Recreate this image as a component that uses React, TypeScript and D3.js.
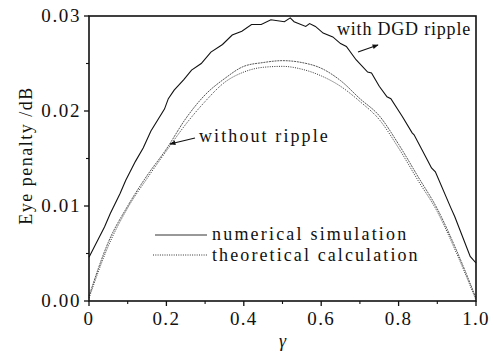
import React from "react";
import * as d3 from "d3";

// With DGD ripple – numerical simulation
const gammaDGD = [0, 0.04, 0.055, 0.08, 0.095, 0.12, 0.14, 0.16, 0.195, 0.205, 0.22, 0.245, 0.265, 0.29, 0.315, 0.345, 0.37, 0.395, 0.42, 0.445, 0.47, 0.505, 0.52, 0.53, 0.56, 0.57, 0.585, 0.605, 0.63, 0.65, 0.665, 0.69, 0.72, 0.73, 0.75, 0.77, 0.78, 0.81, 0.835, 0.84, 0.875, 0.885, 0.895, 0.935, 0.945, 0.985, 1.0];
const penaltyDGD = [0.0046, 0.0078, 0.0092, 0.0113, 0.0127, 0.0147, 0.0161, 0.0179, 0.0202, 0.0213, 0.0222, 0.0233, 0.0243, 0.025, 0.0262, 0.027, 0.028, 0.0284, 0.0291, 0.0291, 0.0296, 0.0294, 0.0298, 0.0294, 0.0289, 0.0292, 0.0289, 0.0282, 0.0278, 0.0271, 0.0268, 0.0254, 0.0241, 0.024, 0.0226, 0.0215, 0.0213, 0.0194, 0.0177, 0.0175, 0.0148, 0.014, 0.0136, 0.0098, 0.0089, 0.0047, 0.004];

// Without ripple
const gammaSmooth = [0, 0.05, 0.1, 0.15, 0.2, 0.25, 0.3, 0.35, 0.4, 0.45, 0.5, 0.55, 0.6, 0.65, 0.7, 0.75, 0.8, 0.85, 0.9, 0.95, 1.0];
const penaltyNoRipple = [0.0005, 0.0062, 0.01, 0.0132, 0.016, 0.0192, 0.0217, 0.0234, 0.0247, 0.0251, 0.0253, 0.0251, 0.0245, 0.0232, 0.0213, 0.0195, 0.0165, 0.0131, 0.0097, 0.0053, 0.0003];
const penaltyTheory = [0.0003, 0.0058, 0.0098, 0.0129, 0.0158, 0.0186, 0.021, 0.023, 0.0241, 0.0246, 0.0247, 0.0244, 0.0237, 0.0226, 0.021, 0.0191, 0.0161, 0.0127, 0.0094, 0.005, 0.0001];

const xTicks = [0, 0.2, 0.4, 0.6, 0.8, 1.0];
const xTickLabels = ["0", "0.2", "0.4", "0.6", "0.8", "1.0"];
const xMinor = [0.1, 0.3, 0.5, 0.7, 0.9];
const yTicks = [0, 0.01, 0.02, 0.03];
const yTickLabels = ["0.00", "0.01", "0.02", "0.03"];
const yMinor = [0.005, 0.015, 0.025];

const W = 494, H = 353;
const L = 89, R = 476, T = 16, B = 301;
const FONT = "'Liberation Serif', 'Times New Roman', serif";

export default function App() {
  const x = d3.scaleLinear().domain([0, 1]).range([L, R]);
  const y = d3.scaleLinear().domain([0, 0.03]).range([B, T]);
  const lineSharp = d3.line<[number, number]>().x(d => x(d[0])).y(d => y(d[1]));
  const lineSmooth = d3.line<[number, number]>().x(d => x(d[0])).y(d => y(d[1])).curve(d3.curveMonotoneX);
  const dgd = gammaDGD.map((g, i) => [g, penaltyDGD[i]] as [number, number]);
  const noR = gammaSmooth.map((g, i) => [g, penaltyNoRipple[i]] as [number, number]);
  const th = gammaSmooth.map((g, i) => [g, penaltyTheory[i]] as [number, number]);

  return (
    <div style={{ position: "absolute", left: 0, top: 0 }}>
      <svg width={W} height={H} style={{ display: "block", background: "#fff" }}>
        <defs>
          <marker id="ah" viewBox="0 0 10 10" refX="9" refY="5" markerWidth="7" markerHeight="6" orient="auto-start-reverse" markerUnits="userSpaceOnUse">
            <path d="M0,1 L10,5 L0,9 Z" fill="#111" />
          </marker>
        </defs>
        {/* curves */}
        <path d={lineSmooth(th) || ""} fill="none" stroke="#333" strokeWidth={1} strokeDasharray="1,1.3" />
        <path d={lineSmooth(noR) || ""} fill="none" stroke="#444" strokeWidth={0.9} strokeDasharray="2,0.8" />
        <path d={lineSharp(dgd) || ""} fill="none" stroke="#111" strokeWidth={1.1} />
        {/* frame */}
        <rect x={L} y={T} width={R - L} height={B - T} fill="none" stroke="#111" strokeWidth={1.6} />
        {/* x ticks */}
        {xTicks.map((t, i) => (
          <g key={"xt" + i}>
            <line x1={x(t)} x2={x(t)} y1={B} y2={B + 5} stroke="#111" strokeWidth={1.3} />
            <text x={x(t)} y={B + 24} textAnchor="middle" fontFamily={FONT} fontSize={19} letterSpacing={1.3} fill="#111">{xTickLabels[i]}</text>
          </g>
        ))}
        {xMinor.map((t, i) => (
          <line key={"xm" + i} x1={x(t)} x2={x(t)} y1={B} y2={B + 3} stroke="#111" strokeWidth={1.1} />
        ))}
        {/* y ticks */}
        {yTicks.map((t, i) => (
          <g key={"yt" + i}>
            <line x1={L - 5} x2={L} y1={y(t)} y2={y(t)} stroke="#111" strokeWidth={1.3} />
            <text x={L - 8} y={y(t) + 6} textAnchor="end" fontFamily={FONT} fontSize={19} letterSpacing={1.6} fill="#111">{yTickLabels[i]}</text>
          </g>
        ))}
        {yMinor.map((t, i) => (
          <line key={"ym" + i} x1={L - 3} x2={L} y1={y(t)} y2={y(t)} stroke="#111" strokeWidth={1.1} />
        ))}
        {/* axis titles */}
        <text transform={`translate(32,${(T + B) / 2 - 3}) rotate(-90)`} textAnchor="middle" fontFamily={FONT} fontSize={18} letterSpacing={1.5} fill="#111">Eye penalty /dB</text>
        <text x={x(0.5)} y={347} textAnchor="middle" fontFamily={FONT} fontSize={18} fontStyle="italic" fill="#111">γ</text>
        {/* annotations */}
        <text x={337} y={35} fontFamily={FONT} fontSize={18} letterSpacing={0.8} fill="#111">with DGD ripple</text>
        <line x1={358} y1={52} x2={378} y2={45} stroke="#111" strokeWidth={1.2} markerEnd="url(#ah)" />
        <text x={199} y={142} fontFamily={FONT} fontSize={18} letterSpacing={2.1} fill="#111">without ripple</text>
        <line x1={195} y1={138} x2={170} y2={144} stroke="#111" strokeWidth={1.2} markerEnd="url(#ah)" />
        {/* legend */}
        <line x1={155} x2={207} y1={235} y2={235} stroke="#333" strokeWidth={1} />
        <text x={212} y={240} fontFamily={FONT} fontSize={18} letterSpacing={2.2} fill="#111">numerical simulation</text>
        <line x1={153} x2={207} y1={255} y2={255} stroke="#333" strokeWidth={1} strokeDasharray="1,1.3" />
        <text x={212} y={261} fontFamily={FONT} fontSize={18} letterSpacing={2.1} fill="#111">theoretical calculation</text>
      </svg>
    </div>
  );
}
